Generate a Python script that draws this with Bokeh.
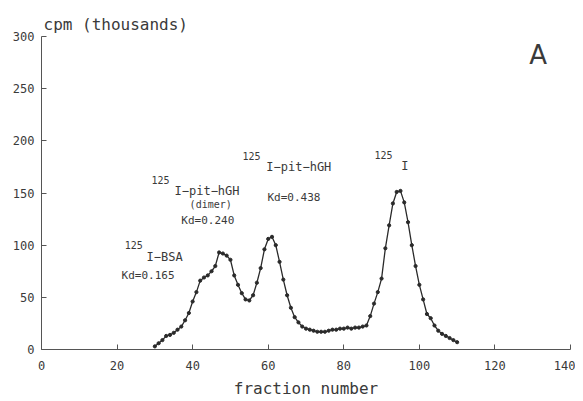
from bokeh.plotting import figure
from bokeh.models import Range1d, FixedTicker, Title
from bokeh.core.properties import value
from bokeh.embed import file_html
from bokeh.resources import INLINE

fractions = list(range(30, 111))
cpm = [3, 6, 9, 13, 14, 16, 19, 22, 28, 35,
       46, 55, 66, 69, 71, 75, 80, 93, 92, 90,
       86, 71, 62, 54, 48, 47, 52, 64, 78, 96,
       106, 108, 100, 84, 67, 52, 40, 31, 26, 22,
       20, 19, 18, 17, 17, 17, 18, 19, 19, 20,
       20, 21, 20, 21, 21, 22, 23, 32, 44, 55,
       68, 97, 119, 140, 151, 152, 141, 122, 100, 80,
       62, 48, 34, 30, 23, 18, 15, 13, 11, 9, 7]

x_ticks = [0, 20, 40, 60, 80, 100, 120, 140]
y_ticks = [0, 50, 100, 150, 200, 250, 300]

# annotation texts, anchor positions (data units) and font sizes
ann_text = ["125", "I\u2212BSA", "Kd=0.165",
            "125", "I\u2212pit\u2212hGH", "(dimer)", "Kd=0.240",
            "125", "I\u2212pit\u2212hGH", "Kd=0.438",
            "125", "I"]
ann_x = [22.0, 27.8, 21.2,
         29.1, 35.2, 39.2, 37.0,
         53.2, 59.5, 59.8,
         88.1, 95.2]
ann_y = [100, 88.5, 71,
         162.5, 152, 139.4, 124,
         185.6, 175, 146,
         186.5, 176]
ann_size = ["10px", "12px", "11px",
            "10px", "12px", "10px", "11px",
            "10px", "12px", "11px",
            "10px", "12px"]

FONT = "DejaVu Sans Mono"
TXT = "#3a3a3a"

p = figure(width=575, height=400, output_backend="svg", toolbar_location=None,
           x_range=Range1d(0, 140), y_range=Range1d(0, 300),
           min_border_left=41, min_border_right=5, min_border_top=36,
           min_border_bottom=51)
p.title = Title(text="cpm (thousands)", align="left", offset=2,
                text_font=FONT, text_font_size="16px", text_font_style="normal",
                text_color=TXT, standoff=6)
p.outline_line_color = None
p.grid.visible = False
p.background_fill_color = "white"

for ax in (p.xaxis[0], p.yaxis[0]):
    ax.axis_line_color = "#555555"
    ax.major_tick_line_color = "#555555"
    ax.major_tick_in = 5
    ax.major_tick_out = 0
    ax.minor_tick_line_color = None
    ax.major_label_text_font = FONT
    ax.major_label_text_font_size = "12px"
    ax.major_label_text_color = TXT

p.xaxis.ticker = FixedTicker(ticks=x_ticks)
p.yaxis.ticker = FixedTicker(ticks=y_ticks)
p.xaxis.major_label_standoff = 11
p.yaxis.major_label_standoff = 7
p.xaxis.axis_label = "fraction number"
p.xaxis.axis_label_text_font = FONT
p.xaxis.axis_label_text_font_size = "16px"
p.xaxis.axis_label_text_font_style = "normal"
p.xaxis.axis_label_text_color = TXT
p.xaxis.axis_label_standoff = 6

p.line(fractions, cpm, line_color="#2a2a2a", line_width=1.3)
p.scatter(fractions, cpm, size=3.2, fill_color="#2a2a2a", line_color="#2a2a2a")

for t, xx, yy, fs in zip(ann_text, ann_x, ann_y, ann_size):
    p.text(x=[xx], y=[yy], text=[t], text_font=value(FONT), text_font_size=fs,
           text_color=TXT, text_align="left", text_baseline="middle")

p.text(x=[129.1], y=[282.7], text=["A"], text_font=value("DejaVu Sans"),
       text_font_size="26px", text_color=TXT, text_align="left",
       text_baseline="middle")

open("out.html", "w").write(file_html(p, INLINE))
